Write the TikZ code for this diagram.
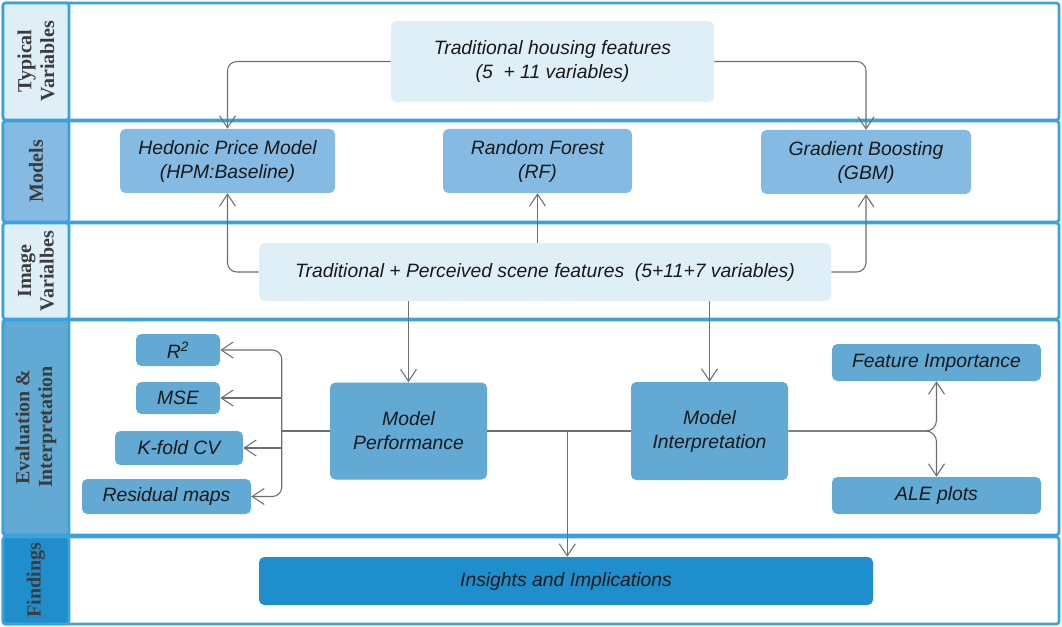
\documentclass[tikz,border=0pt]{standalone}
\usepackage{fontspec}
\setmainfont{Liberation Serif}
\setsansfont{Liberation Sans}
\usetikzlibrary{arrows.meta}
\definecolor{lightbox}{HTML}{DFEFF8}
\definecolor{modelbox}{HTML}{85BBE3}
\definecolor{evalbox}{HTML}{62A9D3}
\definecolor{findbox}{HTML}{1E8ECC}
\definecolor{laneblue}{HTML}{3AA3DE}
\definecolor{conngray}{HTML}{6E6E6E}
\definecolor{labelgray}{HTML}{3C3C3C}
\tikzset{
  box/.style={rounded corners=4pt, inner sep=0pt, align=center,
    font=\sffamily\itshape\fontsize{14.5}{18}\selectfont, text=black!90},
  lightnode/.style={box, fill=lightbox},
  modelnode/.style={box, fill=modelbox},
  evalnode/.style={box, fill=evalbox},
  findnode/.style={box, fill=findbox},
  lane/.style={draw=laneblue, line width=2pt, rounded corners=2pt},
  lanelabel/.style={rotate=90, align=center, text=labelgray,
    font=\bfseries\fontsize{15}{17}\selectfont},
  conn/.style={draw=conngray, line width=0.8pt},
  tip/.style={-{Straight Barb[length=9pt,width=12pt,line width=0.8pt]}},
}
\begin{document}
\begin{tikzpicture}[x=0.75pt, y=-0.75pt]
\useasboundingbox (0,0) rectangle (1062,627);

% swim lanes with their label cells
\draw[lane] (3,3) rectangle (1059,120);
\draw[lane, fill=lightbox] (3,3) rectangle (69,120);
\draw[lane] (3,121) rectangle (1059,222);
\draw[lane, fill=modelbox] (3,121) rectangle (69,222);
\draw[lane] (3,223) rectangle (1059,319);
\draw[lane, fill=lightbox] (3,223) rectangle (69,319);
\draw[lane] (3,320) rectangle (1059,535);
\draw[lane, fill=evalbox] (3,320) rectangle (69,535);
\draw[lane] (3,537) rectangle (1059,624);
\draw[lane, fill=findbox] (3,537) rectangle (69,624);

\node[lanelabel] (lTyp) at (36,61) {Typical\\Variables};
\node[lanelabel] (lMod) at (36,171) {Models};
\node[lanelabel] (lImg) at (36,271) {Image\\Varialbes};
\node[lanelabel] (lEval) at (36,427) {Evaluation \&\\Interpretation};
\node[lanelabel] (lFind) at (36,580) {Findings};

% nodes
\node[lightnode, minimum width=242.25pt, minimum height=60.75pt] (trad) at (552.5,61.5)
  {Traditional housing features\\(5~~+ 11 variables)};
\node[modelnode, minimum width=161.25pt, minimum height=48pt] (hpm) at (227.5,161)
  {Hedonic Price Model\\(HPM:Baseline)};
\node[modelnode, minimum width=141.75pt, minimum height=48pt] (rf) at (537.5,161)
  {Random Forest\\(RF)};
\node[modelnode, minimum width=157.5pt, minimum height=48pt] (gbm) at (866,162)
  {Gradient Boosting\\(GBM)};
\node[lightnode, minimum width=429pt, minimum height=43.5pt] (img) at (545,272)
  {Traditional + Perceived scene features~~(5+11+7 variables)};
\node[evalnode, minimum width=63pt, minimum height=24pt] (r2) at (178,350) {R\textsuperscript{2}};
\node[evalnode, minimum width=63pt, minimum height=24pt] (mse) at (178,398) {MSE};
\node[evalnode, minimum width=96pt, minimum height=25.5pt] (kcv) at (179,448) {K-fold CV};
\node[evalnode, minimum width=126.75pt, minimum height=26.25pt] (res) at (166.5,496.5) {Residual maps};
\node[evalnode, minimum width=117.75pt, minimum height=72.75pt] (mp) at (408.5,431) {Model\\Performance};
\node[evalnode, minimum width=117.75pt, minimum height=73.5pt] (mi) at (709.5,431) {Model\\Interpretation};
\node[evalnode, minimum width=156.75pt, minimum height=27.75pt] (fi) at (936.5,362.5) {Feature Importance};
\node[evalnode, minimum width=156.75pt, minimum height=27.75pt] (ale) at (936.5,495.5) {ALE plots};
\node[findnode, minimum width=460.5pt, minimum height=36pt] (ins) at (566,581) {Insights and Implications};

% connectors: typical variables to models
\draw[conn, tip, rounded corners=7pt] (trad.west) -| (hpm.north);
\draw[conn, tip, rounded corners=7pt] (trad.east) -| (gbm.north);
% image variables to models
\draw[conn, tip, rounded corners=7pt] (img.west) -| (hpm.south);
\draw[conn, tip, rounded corners=7pt] (img.east) -| (gbm.south);
\draw[conn, tip] (img.north -| rf.south) -- (rf.south);
% image variables to evaluation
\draw[conn, tip] (img.south -| mp.north) -- (mp.north);
\draw[conn, tip] (img.south -| mi.north) -- (mi.north);

% performance metrics
\path (mp.west) ++(-48,0) coordinate (trunk);
\draw[conn] (mp.west) -- (trunk);
\draw[conn, tip, rounded corners=7pt] (trunk) |- (r2.east);
\draw[conn, tip, rounded corners=7pt] (trunk) |- (res.east);
\draw[conn, tip] (trunk |- mse.east) -- (mse.east);
\draw[conn, tip] (trunk |- kcv.east) -- (kcv.east);

% interpretation outputs
\draw[conn, tip, rounded corners=8pt] (mi.east) -| (fi.south);
\draw[conn, tip, rounded corners=8pt] (mi.east) -| (ale.north);

% both evaluation steps feed the findings
\draw[conn] (mp.east) -- (mi.west);
\path (mp.east) ++(80,0) coordinate (join);
\draw[conn, tip] (join) -- (join |- ins.north);
\end{tikzpicture}
\end{document}
